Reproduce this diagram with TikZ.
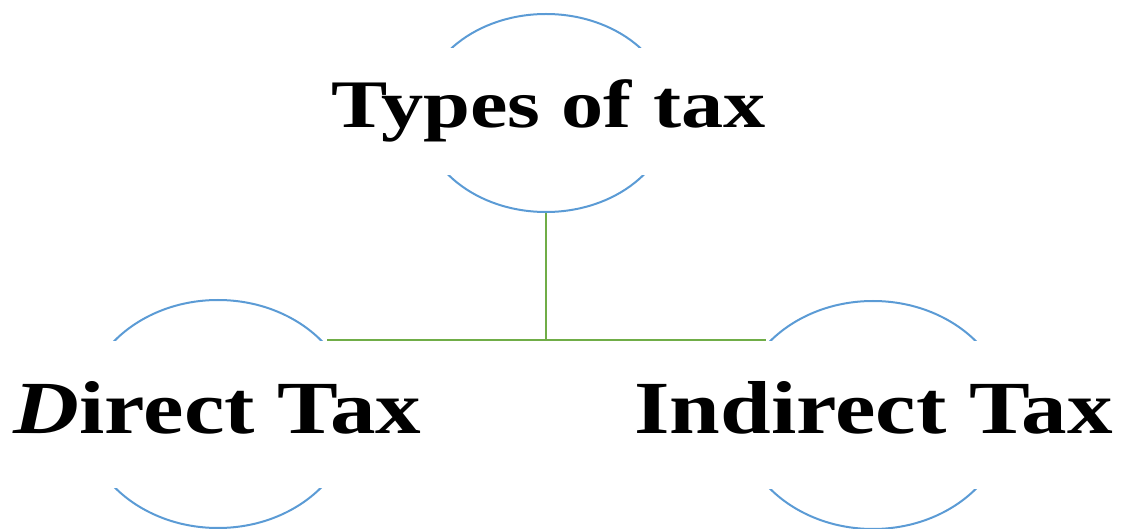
\documentclass[tikz,border=0pt]{standalone}
\usepackage{fontspec}
\usepackage{graphicx}
\setmainfont{Liberation Serif}
\usetikzlibrary{shapes.geometric}
\definecolor{arcblue}{HTML}{5B9BD5}
\definecolor{linkgreen}{HTML}{70AD47}
\tikzset{
  bubble/.style={ellipse, draw=arcblue, line width=2pt, inner sep=0pt},
  label/.style={fill=white, inner xsep=2pt, inner ysep=0pt, anchor=base,
    font=\bfseries},
  link/.style={draw=linkgreen, line width=2.8pt}
}
\begin{document}
\begin{tikzpicture}[x=1pt,y=-1pt]
\useasboundingbox (0,0) rectangle (1122,529);
\node[bubble, minimum width=250pt, minimum height=198pt] (top) at (546,113) {};
\node[bubble, minimum width=270pt, minimum height=228pt] (left) at (218,414) {};
\node[bubble, minimum width=270pt, minimum height=228pt] (right) at (873,415) {};
\node[label, text height=80pt, text depth=47pt] (toptxt) at (548.5,128)
  {\fontsize{68}{76}\selectfont\scalebox{1.24}[1]{Types of tax}};
\node[label, text height=92pt, text depth=55pt] (lefttxt) at (217.5,433)
  {\fontsize{75}{84}\selectfont\scalebox{1.215}[1]{\textit{D}irect Tax}};
\node[label, text height=92pt, text depth=56pt] (righttxt) at (873.5,433)
  {\fontsize{75}{84}\selectfont\scalebox{1.215}[1]{Indirect Tax}};
\coordinate (junction) at (546,340);
\coordinate (leftend) at (327,340);
\coordinate (rightend) at (766,340);
\draw[link] (top.south) -- (junction);
\draw[link] (leftend) -- (rightend);
\end{tikzpicture}
\end{document}
